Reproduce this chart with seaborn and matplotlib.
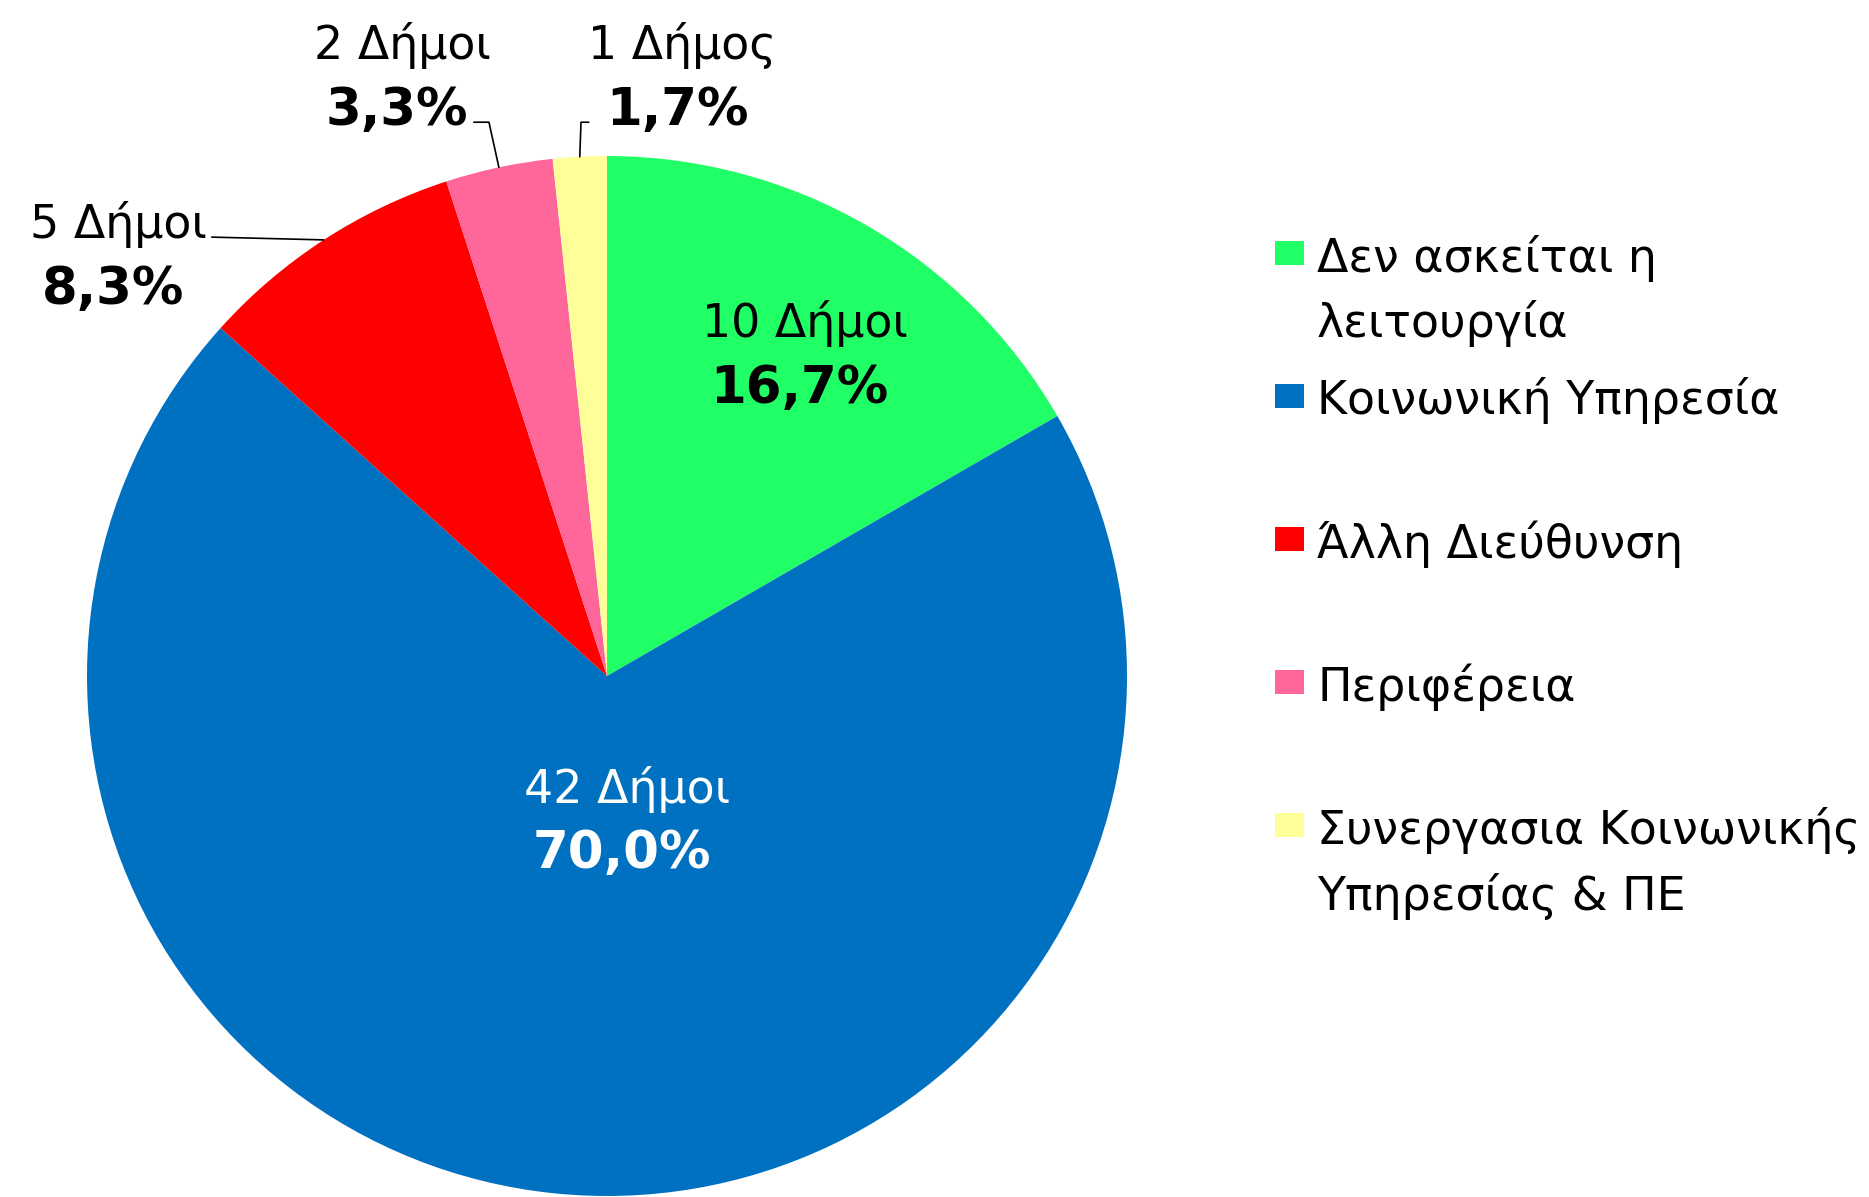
import numpy as np
import matplotlib
matplotlib.use("Agg")
import matplotlib.pyplot as plt
import seaborn as sns
from matplotlib.patches import Rectangle

sns.set_style("white")
plt.rcParams['font.family'] = ['DejaVu Sans']
plt.rcParams['text.color'] = 'black'

categories = ["Δεν ασκείται η\nλειτουργία", "Κοινωνική Υπηρεσία", "Άλλη Διεύθυνση",
              "Περιφέρεια", "Συνεργασια Κοινωνικής\nΥπηρεσίας & ΠΕ"]
counts = [10, 42, 5, 2, 1]
count_labels = ["10 Δήμοι", "42 Δήμοι", "5 Δήμοι", "2 Δήμοι", "1 Δήμος"]
pct_labels = ["16,7%", "70,0%", "8,3%", "3,3%", "1,7%"]
colors = sns.color_palette(["#21FF66", "#0070C0", "#FF0000", "#FF6699", "#FFFF99"])

W, H = 1869, 1197
fig = plt.figure(figsize=(W / 100, H / 100), dpi=100)

# pie centre (607, 676) px from top-left, radius 520 px
cx, cy, r = 607, 676, 520
ax = fig.add_axes([(cx - r) / W, (H - cy - r) / H, 2 * r / W, 2 * r / H])
wedges, _ = ax.pie(counts, colors=colors, startangle=90, counterclock=False,
                   radius=1, wedgeprops=dict(linewidth=0))
ax.set_xlim(-1, 1)
ax.set_ylim(-1, 1)
ax.set_aspect("equal")
ax.axis("off")

# label anchors (data units), text colours and leader elbows
label_pos = [(0.37, 0.625), (0.029, -0.27), (-0.95, 0.815), (-0.404, 1.16), (0.135, 1.16)]
text_cols = ["black", "white", "black", "black", "black"]
elbows = [None, None, [(-0.76, 0.844)], [(-0.256, 1.065), (-0.227, 1.065)],
          [(-0.035, 1.065), (-0.05, 1.065)]]
fs = 33
for i, w in enumerate(wedges):
    x, y = label_pos[i]
    dy = 0.062
    ax.text(x + 0.01, y + dy, count_labels[i], ha="center", va="center_baseline",
            fontsize=fs, color=text_cols[i], clip_on=False)
    ax.text(x, y - dy, pct_labels[i], ha="center", va="center_baseline",
            fontsize=37, fontweight="bold", color=text_cols[i], clip_on=False)
    if elbows[i] is not None:
        mid = np.deg2rad((w.theta1 + w.theta2) / 2)
        pts = elbows[i] + [(np.cos(mid), np.sin(mid))]
        xs, ys = zip(*pts)
        ax.plot(xs, ys, color="black", lw=1.2, clip_on=False)

# legend
lx, ty, step, line_h = 1275, 253, 143, 66
for i, (lab, col) in enumerate(zip(categories, colors)):
    yc = ty + i * step
    fig.patches.append(Rectangle((lx / W, 1 - (yc + 12) / H), 29 / W, 24 / H,
                                 transform=fig.transFigure, facecolor=col, edgecolor="none"))
    for k, line in enumerate(lab.split("\n")):
        fig.text(1317 / W, 1 - (yc + k * line_h) / H, line, ha="left",
                 va="center_baseline", fontsize=fs, color="black")

fig.savefig("out.png", dpi=100, facecolor="white")
